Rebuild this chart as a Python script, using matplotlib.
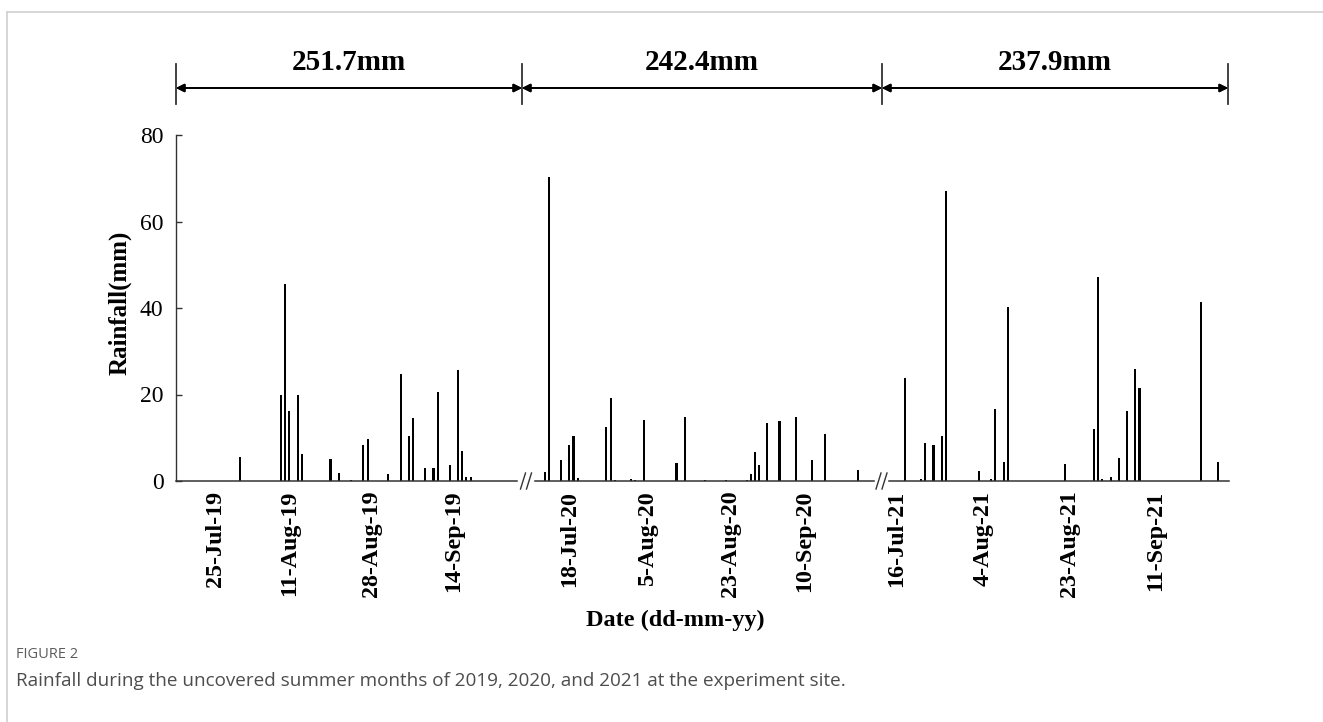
import matplotlib
matplotlib.use("Agg")
import matplotlib.pyplot as plt
from matplotlib.lines import Line2D

# Daily rainfall (mm) for each uncovered summer window.
# Day numbers count from the first day shown in each season's window.
days_2019 = [15, 25, 26, 27, 29, 30, 37, 39, 42, 45, 46, 51, 54, 56, 57,
             60, 62, 63, 66, 68, 69, 70, 71]
rain_2019 = [5.5, 19.8, 45.5, 16.1, 19.9, 6.3, 5.2, 1.8, 0.3, 8.3, 9.7, 1.7,
             24.7, 10.3, 14.6, 2.9, 2.9, 20.5, 3.7, 25.7, 7.0, 1.0, 1.0]

days_2020 = [5, 6, 9, 11, 12, 13, 20, 21, 22, 26, 27, 29, 37, 39, 44, 49,
             54, 55, 56, 57, 59, 62, 66, 70, 73, 81]
rain_2020 = [2.1, 70.2, 4.9, 8.3, 10.5, 0.7, 12.5, 19.2, 0.2, 0.5, 0.2, 14.1,
             4.1, 14.8, 0.2, 0.2, 0.2, 1.6, 6.6, 3.6, 13.4, 13.9, 14.8, 4.9,
             10.8, 2.6]

days_2021 = [5, 9, 10, 12, 14, 15, 23, 26, 27, 29, 30, 44, 51, 52, 53, 55,
             57, 59, 61, 62, 77, 81]
rain_2021 = [23.9, 0.4, 8.7, 8.4, 10.4, 67.0, 2.3, 0.5, 16.6, 4.4, 40.2, 4.0,
             12.0, 47.2, 0.5, 1.0, 5.3, 16.1, 26.0, 21.5, 41.4, 4.4]

tick_days_2019 = [9, 27, 47, 67]
tick_labels_2019 = ["25-Jul-19", "11-Aug-19", "28-Aug-19", "14-Sep-19"]
tick_days_2020 = [11, 30, 50, 68]
tick_labels_2020 = ["18-Jul-20", "5-Aug-20", "23-Aug-20", "10-Sep-20"]
tick_days_2021 = [3, 24, 45, 66]
tick_labels_2021 = ["16-Jul-21", "4-Aug-21", "23-Aug-21", "11-Sep-21"]

season_totals = [251.7, 242.4, 237.9]

# ---------------------------------------------------------------- layout
W, H = 1323, 722
fig = plt.figure(figsize=(W / 100, H / 100), dpi=100)
fig.patch.set_facecolor("white")


def fx(px):
    return px / W


def fy(py):
    return 1 - py / H


SERIF = ["Liberation Serif", "DejaVu Serif"]
SANS = ["Open Sans", "DejaVu Sans"]

AX_L, AX_R, AX_T, AX_B = 176, 1229, 135, 481
DAY_PX = 4.12                      # width of one day slot
season_start_px = [176, 522, 882]  # left edge of each season window
season_end_px = [522, 882, 1228]

ax = fig.add_axes([fx(AX_L), fy(AX_B), (AX_R - AX_L) / W, (AX_B - AX_T) / H])
ax.set_xlim(0, (AX_R - AX_L) / DAY_PX)
ax.set_ylim(0, 80)

seasons = [
    (days_2019, rain_2019, tick_days_2019, tick_labels_2019),
    (days_2020, rain_2020, tick_days_2020, tick_labels_2020),
    (days_2021, rain_2021, tick_days_2021, tick_labels_2021),
]

tick_pos, tick_lab = [], []
for start_px, (days, rain, tdays, tlabels) in zip(season_start_px, seasons):
    origin = (start_px - AX_L) / DAY_PX
    ax.bar([origin + d + 0.5 for d in days], rain, width=0.5,
           color="black", linewidth=0)
    tick_pos += [origin + d + 0.5 for d in tdays]
    tick_lab += tlabels

ax.set_xticks(tick_pos)
ax.set_xticklabels(tick_lab, rotation=90, fontfamily=SERIF,
                   fontweight="bold", fontsize=17.3)
ax.tick_params(axis="x", length=0, pad=7.0)

ax.set_yticks([0, 20, 40, 60, 80])
ax.tick_params(axis="y", direction="in", length=4, width=1.0,
               color="#333333", pad=9, labelsize=17)
for lab in ax.get_yticklabels():
    lab.set_fontfamily(SERIF)

for side in ("top", "right", "bottom"):
    ax.spines[side].set_visible(False)
ax.spines["left"].set_color("#333333")
ax.spines["left"].set_linewidth(1.0)

# broken x axis: three baseline pieces with "//" marks in the gaps
AXIS_COLOR = "#333333"
for a, b in [(176, 517), (535, 874), (889, 1229)]:
    fig.add_artist(Line2D([fx(a), fx(b)], [fy(AX_B), fy(AX_B)],
                          color=AXIS_COLOR, lw=1.1))
for c in (526, 881.5):
    for off in (-3, 3):
        x = c + off
        fig.add_artist(Line2D([fx(x - 2.5), fx(x + 2.5)], [fy(489), fy(473)],
                              color=AXIS_COLOR, lw=1.0))

# season totals with dimension arrows
for a in season_start_px + [season_end_px[-1]]:
    fig.add_artist(Line2D([fx(a), fx(a)], [fy(64), fy(104)],
                          color="#333333", lw=1.3))
for a, b, tot in zip(season_start_px, season_end_px, season_totals):
    fig.add_artist(plt.annotate(
        "", xy=(fx(b), fy(88)), xytext=(fx(a), fy(88)),
        xycoords="figure fraction", textcoords="figure fraction",
        arrowprops=dict(arrowstyle="<|-|>", color="black", lw=1.3,
                        shrinkA=0, shrinkB=0, mutation_scale=12)))
    fig.text(fx((a + b) / 2), fy(63), f"{tot}mm", ha="center", va="center",
             fontfamily=SERIF, fontweight="bold", fontsize=21)

fig.text(fx(120), fy(303), "Rainfall(mm)", rotation=90, ha="center",
         va="center", fontfamily=SERIF, fontweight="bold", fontsize=18)
fig.text(fx(675), fy(620), "Date (dd-mm-yy)", ha="center", va="center",
         fontfamily=SERIF, fontweight="bold", fontsize=17.5)

# caption block
fig.text(fx(16), fy(654), "FIGURE 2", ha="left", va="center",
         fontfamily=SANS, fontsize=10.5, color="#5c5c5c")
fig.text(fx(16), fy(681),
         "Rainfall during the uncovered summer months of 2019, 2020, and 2021 "
         "at the experiment site.",
         ha="left", va="center", fontfamily=SANS, fontsize=13.6,
         color="#4d4d4d")

# thin page frame (top and left edges)
fig.add_artist(Line2D([fx(7), 1], [fy(12), fy(12)], color="#d0d0d0", lw=1.2))
fig.add_artist(Line2D([fx(7), fx(7)], [fy(12), 0], color="#d0d0d0", lw=1.2))

fig.savefig("out.png", dpi=100, facecolor="white")
